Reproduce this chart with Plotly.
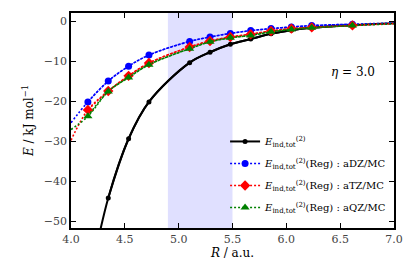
import plotly.graph_objects as go

# ---- data ----
R = [4.346, 4.535, 4.724, 5.102, 5.291, 5.480, 5.669, 5.858, 6.047, 6.236, 6.614]
R_all = [4.157] + R

E_ind = [-44.2, -29.4, -20.2, -10.4, -7.8, -5.8, -4.5, -3.2, -2.3, -1.7, -1.0]
E_adz = [-20.2, -15.0, -11.3, -8.5, -5.1, -4.0, -3.1, -2.4, -1.9, -1.5, -1.15, -0.8]
E_atz = [-22.2, -17.5, -13.7, -10.5, -6.5, -5.0, -4.0, -3.3, -2.5, -1.9, -1.6, -1.1]
E_aqz = [-23.8, -17.6, -14.1, -10.9, -6.9, -5.2, -4.2, -3.6, -2.7, -2.1, -1.7, -1.15]

# curve ends at R = 4.0 / 7.0
R_lo, R_hi = 4.0, 7.0
ind_ends = (-67.0, -0.55)   # black curve beyond 4.157 is off-axis
adz_ends = (-25.4, -0.5)
atz_ends = (-29.8, -0.65)
aqz_ends = (-27.1, -0.7)

x_ticks = [4.0, 4.5, 5.0, 5.5, 6.0, 6.5, 7.0]
x_ticklabels = ["4.0", "4.5", "5.0", "5.5", "6.0", "6.5", "7.0"]
y_ticks = [0, -10, -20, -30, -40, -50]
y_ticklabels = ["0", "−10", "−20", "−30", "−40", "−50"]

shade_lo, shade_hi = 4.9, 5.5
eta_label = "<i>η</i> = 3.0"

FONT = "DejaVu Serif"
lbl = "<i>E</i><sub>ind,tot</sub><sup>(2)</sup>"

fig = go.Figure()

fig.add_vrect(x0=shade_lo, x1=shade_hi, fillcolor="rgba(0,0,255,0.12)",
              line_width=0, layer="below")

DOT = "2px,2px"

# black curve
fig.add_trace(go.Scatter(
    x=[4.157] + R + [R_hi], y=[ind_ends[0]] + E_ind + [ind_ends[1]],
    mode="lines", line=dict(color="black", width=2, shape="spline"),
    showlegend=False, hoverinfo="skip"))
fig.add_trace(go.Scatter(
    x=R, y=E_ind, mode="lines+markers", name=lbl, legendgroup="g0",
    line=dict(color="black", width=2, shape="spline"),
    marker=dict(color="black", size=5, symbol="circle")))

series = [
    (E_adz, adz_ends, "blue", "circle", 7, "(Reg) : aDZ/MC"),
    (E_atz, atz_ends, "red", "diamond", 8, "(Reg) : aTZ/MC"),
    (E_aqz, aqz_ends, "green", "triangle-up", 8, "(Reg) : aQZ/MC"),
]
for vals, ends, col, sym, sz, suffix in series:
    fig.add_trace(go.Scatter(
        x=[R_lo] + R_all + [R_hi], y=[ends[0]] + vals + [ends[1]],
        mode="lines", line=dict(color=col, width=1.6, dash=DOT, shape="spline"),
        showlegend=False, hoverinfo="skip"))
for i, (vals, ends, col, sym, sz, suffix) in enumerate(series):
    fig.add_trace(go.Scatter(
        x=R_all, y=vals, mode="lines+markers", name=lbl + suffix,
        legendgroup="g%d" % (i + 1),
        line=dict(color=col, width=1.6, dash=DOT, shape="spline"),
        marker=dict(color=col, size=sz, symbol=sym)))

fig.add_annotation(x=6.62, y=-12.8, text=eta_label, showarrow=False,
                   font=dict(family=FONT, size=12, color="black"))

axis_common = dict(showgrid=False, zeroline=False, showline=True, linecolor="black",
                   linewidth=1.5, mirror="ticks", ticks="inside", ticklen=5,
                   tickwidth=1, tickcolor="black", automargin=False,
                   tickfont=dict(family=FONT, size=11, color="#444"))

fig.update_xaxes(range=[4.0, 7.0], tickvals=x_ticks, ticktext=x_ticklabels,
                 title=dict(text="<i>R</i> / a.u.", font=dict(family=FONT, size=12), standoff=0),
                 **axis_common)
fig.update_yaxes(range=[-51.7, 2.0], tickvals=y_ticks, ticktext=y_ticklabels,
                 title=dict(text="<i>E</i> / kJ mol<sup>−1</sup>", font=dict(family=FONT, size=12), standoff=8),
                 **axis_common)

# page body adds an 8px margin, so the figure is sized to fit inside the window
fig.update_layout(
    width=407, height=252,
    margin=dict(l=63, r=21, t=5, b=32),
    paper_bgcolor="white", plot_bgcolor="white",
    font=dict(family=FONT, color="black"),
    showlegend=True,
    legend=dict(x=0.477, y=0.47, xanchor="left", yanchor="top",
                bgcolor="rgba(0,0,0,0)", borderwidth=0,
                font=dict(family=FONT, size=10), tracegroupgap=3,
                itemwidth=30),
)

fig.write_html("out.html")
